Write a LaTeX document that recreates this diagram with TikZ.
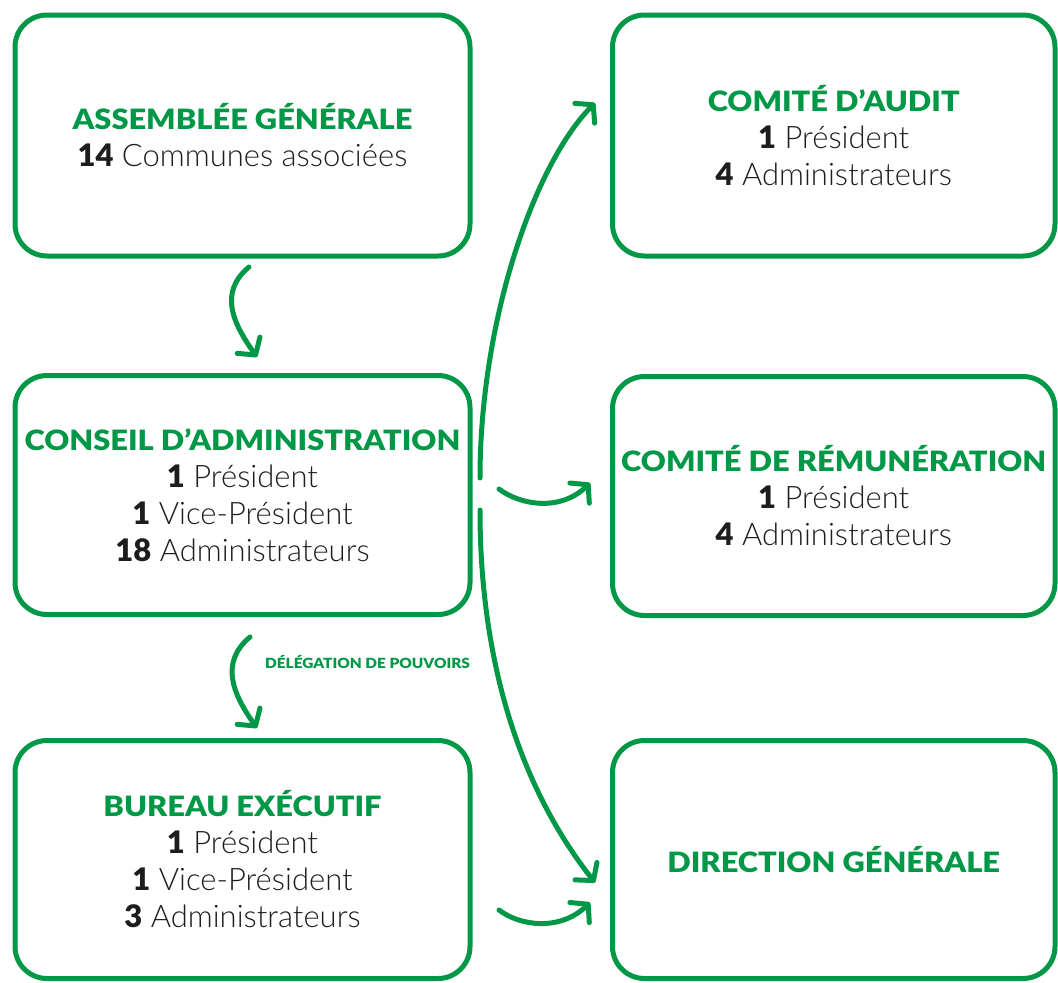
\documentclass[tikz,border=0pt]{standalone}
\usepackage{fontspec}
\setmainfont{Lato}[UprightFont=* Light, BoldFont=* Black]
\newfontfamily\titlefont{Lato Black}[FakeStretch=1.1]
\usetikzlibrary{arrows.meta,calc}

\definecolor{brandgreen}{RGB}{0,152,70}
\definecolor{inkblack}{RGB}{29,29,27}

\tikzset{
  orgbox/.style={draw=brandgreen, line width=5pt, rounded corners=32pt,
    align=center, inner sep=0pt, text=inkblack,
    font=\fontsize{31}{37}\selectfont},
  leftbox/.style={orgbox, minimum width=455pt, minimum height=241pt},
  rightbox/.style={orgbox, minimum width=442.5pt, minimum height=241pt},
  flow/.style={draw=brandgreen, line width=5pt, line cap=round,
    -{Straight Barb[length=12pt,width=28pt,line cap=round,line join=round]}},
  flowlabel/.style={anchor=west, inner sep=0pt, text=brandgreen,
    font=\titlefont\fontsize{14}{16}\selectfont},
}
\newcommand\boxtitle[1]{{\titlefont\color{brandgreen}\fontsize{28}{37}\selectfont #1}}
\newcommand\cnt[1]{\textbf{#1}}

\begin{document}
\begin{tikzpicture}[x=1pt,y=-1pt]
  \useasboundingbox (0,0) rectangle (1058,983);

  % left column
  \node[leftbox] (ag) at (242.5,135.5)
    {\boxtitle{ASSEMBLÉE GÉNÉRALE}\\\cnt{14} Communes associées};
  \node[leftbox, minimum height=239pt] (ca) at (242.5,495)
    {\boxtitle{CONSEIL D’ADMINISTRATION}\\\cnt{1} Président\\\cnt{1} Vice-Président\\\cnt{18} Administrateurs};
  \node[leftbox, minimum height=238pt] (be) at (242.5,859.5)
    {\boxtitle{BUREAU EXÉCUTIF}\\\cnt{1} Président\\\cnt{1} Vice-Président\\\cnt{3} Administrateurs};

  % right column
  \node[rightbox] (audit) at (833.75,135.5)
    {\boxtitle{COMITÉ D’AUDIT}\\\cnt{1} Président\\\cnt{4} Administrateurs};
  \node[rightbox, minimum height=239pt] (rem) at (833.75,496)
    {\boxtitle{COMITÉ DE RÉMUNÉRATION}\\\cnt{1} Président\\\cnt{4} Administrateurs};
  \node[rightbox, minimum height=238pt] (dg) at (833.75,859.5)
    {\boxtitle{DIRECTION GÉNÉRALE}};

  % downward links in the left column
  \draw[flow] ($(ag.south)+(6.5,8.5)$) .. controls +(-30,25) and +(-25,-35) .. ($(ca.north)+(14.5,-16)$);
  \draw[flow] ($(ca.south)+(7.5,20)$) .. controls +(-30,25) and +(-25,-35) .. ($(be.north)+(14.5,-10)$);
  \node[flowlabel] (deleg) at (265,662) {DÉLÉGATION DE POUVOIRS};

  % links from the board to the committees and management
  \draw[flow] ($(ca.east)+(7.5,-17)$) .. controls +(0,-158) and +(-60,60) .. ($(audit.west)+(-15,-32.5)$);
  \draw[flow] ($(ca.east)+(26.5,-6)$) .. controls +(21,16) and +(-30,29) .. ($(rem.west)+(-20,-13)$);
  \draw[flow] ($(ca.east)+(7.5,15)$) .. controls +(0,170) and +(-65,-82) .. ($(dg.west)+(-15,23)$);

  % link from the executive bureau to management
  \draw[flow] ($(be.east)+(26.5,50.5)$) .. controls +(21,16) and +(-30,29) .. ($(dg.west)+(-20,43)$);
\end{tikzpicture}
\end{document}
